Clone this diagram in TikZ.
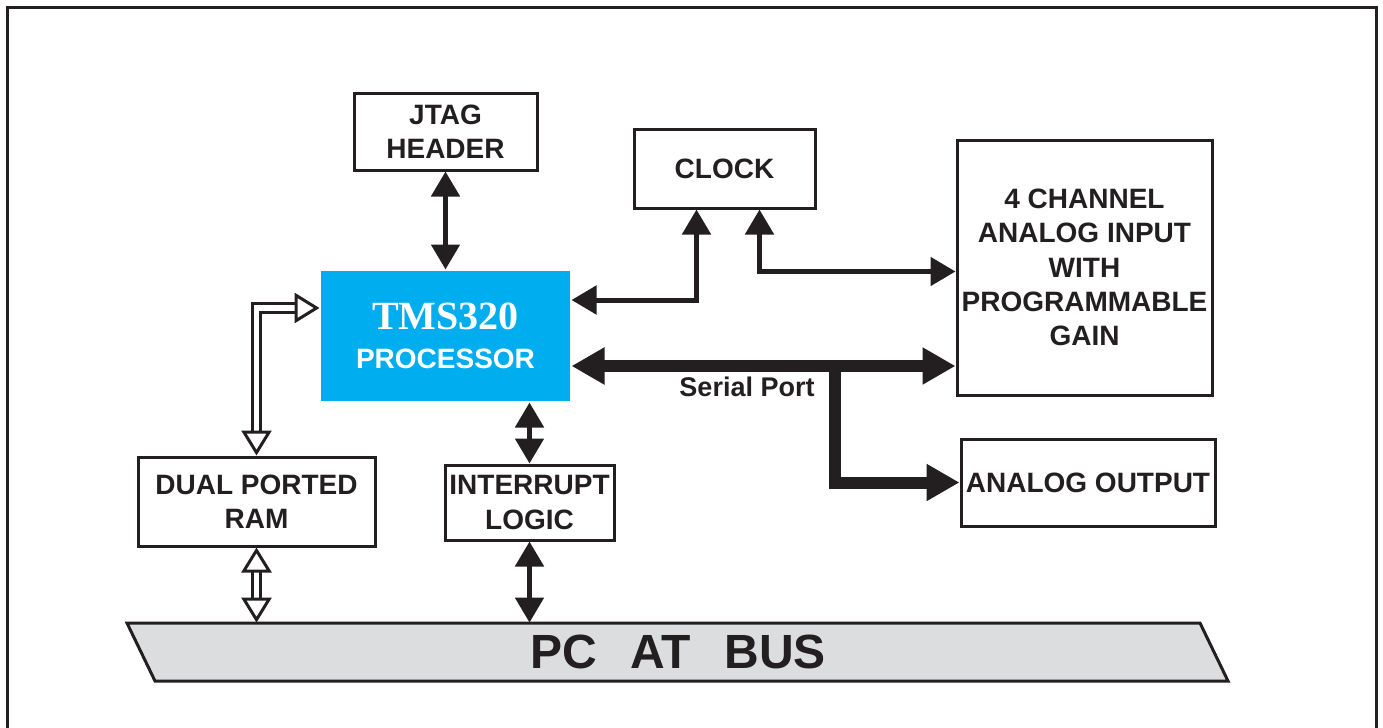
\documentclass[tikz,border=0pt]{standalone}
\usepackage{fontspec}
\setmainfont{Liberation Sans}
\newfontfamily\tmsfont{Liberation Serif}
\usetikzlibrary{arrows.meta}
\definecolor{tiblue}{HTML}{00AEEF}
\definecolor{busgray}{HTML}{DCDDDF}
\definecolor{ink}{HTML}{231F20}

\begin{document}
\begin{tikzpicture}[x=0.5pt,y=-0.5pt,
	>={Triangle[length=12.5pt,width=14pt]},
	block/.style={draw=ink,line width=1.5pt,inner sep=0pt,align=center,
		font=\fontsize{14}{17.2}\selectfont\bfseries,text=ink},
	sig/.style={draw=ink,line width=2.5pt,<->},
	fat/.style={draw=ink,line width=6pt,>={Triangle[length=16.5pt,width=17.5pt]}},
	hollow/.style={draw=ink,line width=1.6pt,double=white,double distance=2.6pt,<->,
		>={Triangle[length=12.5pt,width=15pt,fill=white,line width=1.5pt]}}]
	\useasboundingbox (0,0) rectangle (1383,728);
	\draw[ink,line width=1.5pt] (7.5,728) -- (7.5,7.5) -- (1376,7.5) -- (1376,728);

	\node[block,minimum width=91.5pt,minimum height=38.5pt](jtag) at (445.5,131.5){JTAG\\HEADER};
	\node[block,minimum width=90.5pt,minimum height=39.5pt](clock) at (724.5,168.5){CLOCK};
	\node[block,minimum width=127.5pt,minimum height=127.5pt](ain) at (1084.5,267.5)
		{4 CHANNEL\\ANALOG INPUT\\WITH\\PROGRAMMABLE\\GAIN};
	\node[block,fill=tiblue,draw=none,text=white,minimum width=124.5pt,minimum height=65pt,
		font=\fontsize{14}{19.5}\selectfont\bfseries](tms) at (445.5,336)
		{{\tmsfont\fontsize{20}{19.5}\selectfont TMS320}\\PROCESSOR};
	\node[block,minimum width=118.5pt,minimum height=44.5pt](ram) at (256.5,501.5){DUAL PORTED\\RAM};
	\node[block,minimum width=84.5pt,minimum height=37.5pt](intr) at (529.5,502.5){INTERRUPT\\LOGIC};
	\node[block,minimum width=127pt,minimum height=43.5pt](aout) at (1088,482.5){ANALOG OUTPUT};

	% bus
	\filldraw[fill=busgray,draw=ink,line width=1.5pt] (127,623) -- (1200,623) -- (1228,681) -- (155,681) -- cycle;
	\node[inner sep=0pt,minimum width=536pt,minimum height=29pt,text=ink,
		font=\fontsize{24}{30}\selectfont\bfseries](bus) at (678,652){PC\hspace{0.7em}AT\hspace{0.7em}BUS};

	\draw[sig] (jtag) -- (tms);
	\draw[sig] ([yshift=18pt]tms.east) -| ([xshift=-14pt]clock.south);
	\draw[sig] ([xshift=17.5pt]clock.south) |- ([yshift=-2pt]ain.west);
	\draw[sig] (tms.south -| intr) -- (intr);
	\draw[sig] (intr) -- (intr |- bus.north);

	% serial port
	\coordinate (sp) at ([yshift=-15pt]tms.east);
	\coordinate (tap) at (835,366);
	\draw[fat,<->] (sp) -- (sp -| ain.west);
	\draw[fat,->] (tap) |- (aout.west);
	\node[font=\fontsize{13.5}{16}\selectfont\bfseries,text=ink](splabel) at (747,387){Serial Port};

	\draw[hollow] (ram) |- ([yshift=14pt]tms.west);
	\draw[hollow] (ram) -- (ram |- bus.north);
\end{tikzpicture}
\end{document}
